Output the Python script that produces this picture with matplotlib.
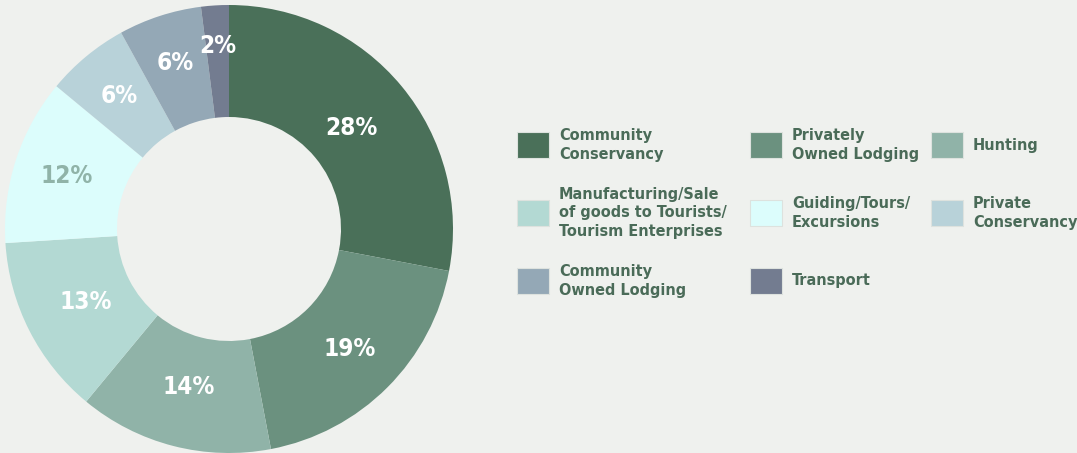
import numpy as np
import matplotlib.pyplot as plt
from matplotlib.patches import Rectangle

# data
labels = ["Community\nConservancy", "Privately\nOwned Lodging", "Hunting",
          "Manufacturing/Sale\nof goods to Tourists/\nTourism Enterprises",
          "Guiding/Tours/\nExcursions", "Private\nConservancy",
          "Community\nOwned Lodging", "Transport"]
shares = [28, 19, 14, 13, 12, 6, 6, 2]
colors = ["#4a7059", "#6b917f", "#90b3a8", "#b3d9d3",
          "#dcfdfc", "#b8d2d9", "#94a8b6", "#737c90"]
pct_colors = ["white", "white", "white", "white", "#90b3a8", "white", "white", "white"]
pct_dist = [0.71, 0.76, 0.73, 0.72, 0.76, 0.77, 0.78, 0.82]

bg = "#eff1ee"
txt = "#4a6b58"
font = ["DejaVu Sans"]

fig = plt.figure(figsize=(10.77, 4.53), dpi=100, facecolor=bg)
ax = fig.add_axes([5 / 1077, 0.0, 448 / 1077, 448 / 453])
ax.set_facecolor(bg)

wedges, _ = ax.pie(shares, colors=colors, startangle=90, counterclock=False,
                   radius=1, wedgeprops=dict(width=0.5, linewidth=0))
for w, v, c, d in zip(wedges, shares, pct_colors, pct_dist):
    a = np.deg2rad((w.theta1 + w.theta2) / 2)
    ax.text(d * np.cos(a), d * np.sin(a), f"{v}%", color=c, fontsize=17.5,
            fontweight="heavy", family=font, fontstretch="condensed",
            ha="center", va="center")
ax.set_xlim(-1, 1)
ax.set_ylim(-1, 1)
ax.set_aspect("equal")
ax.axis("off")

# legend, laid out by hand in 3 columns
col_x = [517, 750, 931]
row_y = [145, 213, 281]
for i, (lab, col) in enumerate(zip(labels, colors)):
    r, c = divmod(i, 3)
    x, y = col_x[c], row_y[r]
    fig.patches.append(Rectangle((x / 1077, 1 - (y + 13) / 453), 32 / 1077, 26 / 453,
                                 transform=fig.transFigure, facecolor=col,
                                 edgecolor="#dde2de", linewidth=0.8))
    fig.text((x + 42) / 1077, 1 - y / 453, lab, color=txt, fontsize=11.6,
             fontweight="bold", family=font, fontstretch="condensed",
             va="center", ha="left", linespacing=1.3)

fig.savefig("out.png", dpi=100, facecolor=bg)
